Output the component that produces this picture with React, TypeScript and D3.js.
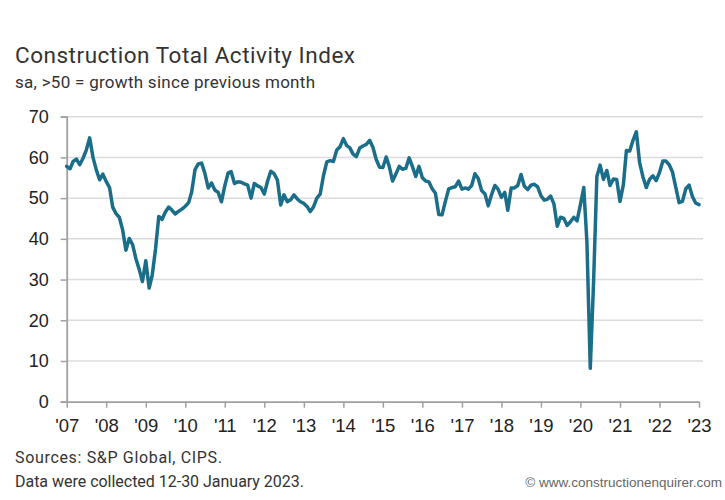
import React, { useEffect, useRef } from 'react';
import * as d3 from 'd3';

// monthly index values, Jan..Dec
const v2007 = [57.8, 57.2, 59.0, 59.6, 58.2, 59.8, 61.8, 64.8, 60.0, 57.0, 54.5, 55.9];
const v2008 = [54.1, 52.6, 47.8, 46.2, 45.3, 42.2, 37.2, 40.1, 38.6, 35.2, 32.5, 29.5];
const v2009 = [34.6, 27.9, 31.0, 37.5, 45.5, 44.8, 46.6, 47.8, 47.0, 46.1, 46.8, 47.3];
const v2010 = [48.0, 48.9, 51.5, 57.0, 58.4, 58.6, 56.1, 52.5, 53.7, 52.0, 51.4, 49.1];
const v2011 = [53.0, 56.2, 56.5, 53.6, 54.0, 53.9, 53.5, 53.2, 50.0, 53.6, 53.0, 52.6];
const v2012 = [51.0, 54.2, 56.6, 56.0, 54.5, 48.3, 50.8, 49.1, 49.6, 50.8, 49.8, 49.1];
const v2013 = [48.7, 47.9, 46.7, 47.9, 50.0, 51.0, 55.5, 58.9, 59.2, 59.0, 61.8, 62.6];
const v2014 = [64.6, 62.9, 62.4, 60.8, 60.2, 62.3, 62.8, 63.2, 64.2, 62.5, 59.5, 57.6];
const v2015 = [57.5, 60.1, 57.8, 54.2, 55.9, 57.8, 57.1, 57.3, 59.9, 57.8, 55.3, 57.8];
const v2016 = [55.0, 54.2, 54.0, 52.3, 51.2, 46.0, 45.9, 49.2, 52.3, 52.6, 52.8, 54.2];
const v2017 = [52.2, 52.5, 52.2, 53.1, 56.0, 54.8, 51.9, 51.1, 48.1, 50.8, 53.1, 52.2];
const v2018 = [50.2, 51.4, 47.0, 52.5, 52.5, 53.1, 55.8, 52.9, 52.1, 53.2, 53.4, 52.8];
const v2019 = [50.6, 49.5, 49.7, 50.5, 48.6, 43.1, 45.3, 45.0, 43.3, 44.2, 45.3, 44.4];
const v2020 = [48.4, 52.6, 39.3, 8.2, 28.9, 55.3, 58.1, 54.6, 56.8, 53.1, 54.7, 54.6];
const v2021 = [49.2, 53.3, 61.7, 61.6, 64.2, 66.3, 58.7, 55.2, 52.6, 54.6, 55.5, 54.3];
const v2022 = [56.3, 59.1, 59.1, 58.2, 56.4, 52.6, 48.9, 49.2, 52.3, 53.2, 50.4, 48.8];
const v2023 = [48.4];

const startYear = 2007;
const yearLabels = ["'07", "'08", "'09", "'10", "'11", "'12", "'13", "'14", "'15", "'16", "'17", "'18", "'19", "'20", "'21", "'22", "'23"];
const yTicks = [0, 10, 20, 30, 40, 50, 60, 70];

const title = 'Construction Total Activity Index';
const subtitle = 'sa, >50 = growth since previous month';
const source = 'Sources: S&P Global, CIPS.';
const note = 'Data were collected 12-30 January 2023.';
const credit = '\u00a9 www.constructionenquirer.com';

const App: React.FC = () => {
  const svgRef = useRef<SVGSVGElement>(null);
  const width = 725;
  const height = 500;

  useEffect(() => {
    document.body.style.margin = '0';
    if (!svgRef.current) return;

    const svg = d3.select(svgRef.current);
    svg.selectAll('*').remove();

    const margin = { top: 116.7, right: 22, bottom: 98.3, left: 66.7 };
    const plotRight = 699;

    const series = [v2007, v2008, v2009, v2010, v2011, v2012, v2013, v2014, v2015, v2016,
      v2017, v2018, v2019, v2020, v2021, v2022, v2023];
    const data = series.flatMap((vals, yi) =>
      vals.map((v, mi) => ({ date: new Date(startYear + yi, mi, 1), value: v }))
    );

    const x = d3
      .scaleTime()
      .domain([new Date(startYear, 0, 1), new Date(startYear + yearLabels.length - 1, 0, 1)])
      .range([margin.left, plotRight]);

    const y = d3
      .scaleLinear()
      .domain([0, 70])
      .range([height - margin.bottom, margin.top]);

    // gridlines
    svg
      .append('g')
      .selectAll('line')
      .data(yTicks.filter((t) => t > 0))
      .join('line')
      .attr('x1', margin.left)
      .attr('x2', 703)
      .attr('y1', (d) => y(d))
      .attr('y2', (d) => y(d))
      .attr('stroke', '#dcdcdc')
      .attr('stroke-width', 1.5);

    // y axis
    const yAxis = svg
      .append('g')
      .attr('transform', `translate(${margin.left},0)`)
      .call(d3.axisLeft(y).tickValues(yTicks).tickSize(6).tickPadding(12));
    yAxis.select('.domain').attr('stroke', '#a0a0a0').attr('stroke-width', 1.8);
    yAxis.selectAll('.tick line').attr('stroke', '#a0a0a0').attr('stroke-width', 1.5);
    yAxis
      .selectAll('.tick text')
      .attr('fill', '#222')
      .style('font-family', '"Liberation Sans", Arial, sans-serif')
      .style('font-size', '18px');

    // x axis
    const tickDates = yearLabels.map((_, i) => new Date(startYear + i, 0, 1));
    const xAxis = svg
      .append('g')
      .attr('transform', `translate(0,${y(0)})`)
      .call(
        d3
          .axisBottom(x)
          .tickValues(tickDates)
          .tickFormat((_, i) => yearLabels[i])
          .tickSize(6)
          .tickSizeOuter(0)
          .tickPadding(11)
      );
    xAxis.select('.domain').attr('stroke', '#a0a0a0').attr('stroke-width', 1.8);
    xAxis.selectAll('.tick line').attr('stroke', '#a0a0a0').attr('stroke-width', 1.5);
    xAxis
      .selectAll('.tick text')
      .attr('fill', '#222')
      .style('font-family', '"Liberation Sans", Arial, sans-serif')
      .style('font-size', '18.5px');

    const line = d3
      .line<{ date: Date; value: number }>()
      .x((d) => x(d.date))
      .y((d) => y(d.value));

    svg
      .append('path')
      .datum(data)
      .attr('fill', 'none')
      .attr('stroke', '#1b6e8a')
      .attr('stroke-width', 3.5)
      .attr('stroke-linejoin', 'round')
      .attr('stroke-linecap', 'round')
      .attr('d', line);

    // titles and notes
    const addText = (txt: string, ty: number, size: number, len: number) =>
      svg
        .append('text')
        .attr('x', 15)
        .attr('y', ty)
        .attr('fill', '#333')
        .attr('textLength', len)
        .attr('lengthAdjust', 'spacing')
        .style('font-family', 'Roboto, sans-serif')
        .style('font-size', `${size}px`)
        .text(txt);

    addText(title, 63, 22.5, 340);
    addText(subtitle, 88, 17, 300);
    addText(source, 463, 16, 207);
    addText(note, 487, 16, 289);

    svg
      .append('text')
      .attr('x', 722)
      .attr('y', 487)
      .attr('text-anchor', 'end')
      .attr('fill', '#666')
      .style('font-family', '"Liberation Sans Narrow", "Liberation Sans", sans-serif')
      .style('font-size', '13.5px')
      .text(credit);
  }, []);

  return (
    <svg ref={svgRef} width={width} height={height} style={{ display: 'block', background: '#fff' }}></svg>
  );
};

export default App;
